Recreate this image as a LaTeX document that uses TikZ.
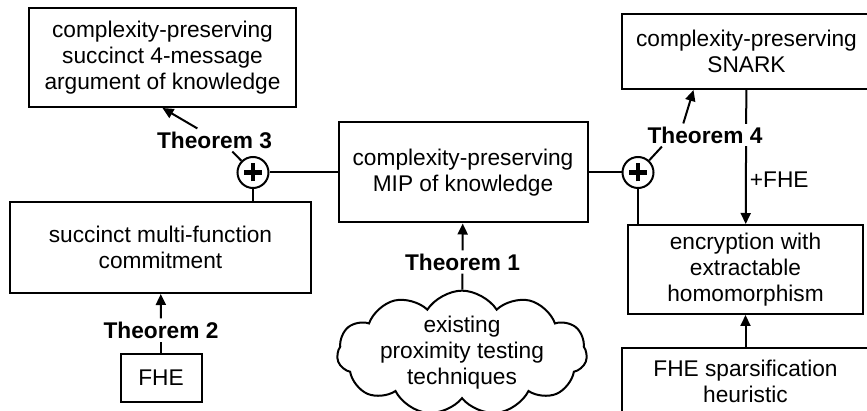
\documentclass[tikz,border=0pt]{standalone}
\usepackage{fontspec}
\setmainfont{Liberation Sans}
\usetikzlibrary{arrows.meta,shapes.symbols}

\begin{document}
\begin{tikzpicture}[
x=1pt, y=-1pt,
% Style for the boxes (results)
box style/.style={
draw=black,
line width=2pt,
align=center,
inner sep=2pt,
font=\fontsize{22.7}{26}\selectfont
},
% Style for the theorem labels on the connectors
thm style/.style={
fill=white,
inner sep=3pt,
font=\fontsize{22.7}{26}\selectfont\bfseries
},
% Style for the circles that combine two results
plus style/.style={
circle,
draw=black,
line width=2pt,
fill=white,
minimum size=31pt,
inner sep=0pt,
path picture={
\draw[line width=4.5pt] ([xshift=-9pt]path picture bounding box.center) -- ([xshift=9pt]path picture bounding box.center);
\draw[line width=4.5pt] ([yshift=-9pt]path picture bounding box.center) -- ([yshift=9pt]path picture bounding box.center);
}
},
line style/.style={line width=2pt},
arrow style/.style={line width=2pt, -{Triangle[length=11pt,width=10pt]}}
]

\fill[white] (0,0) rectangle (867,411);
\useasboundingbox (0,0) rectangle (867,411);

% The boxes
\node[box style, minimum width=267pt, minimum height=99pt] (argument) at (162.5,57.5) {complexity-preserving\\succinct 4-message\\argument of knowledge};
\node[box style, minimum width=249pt, minimum height=100pt] (mip) at (463,172.5) {complexity-preserving\\MIP of knowledge};
\node[box style, minimum width=249pt, minimum height=75pt] (snark) at (746.5,51.5) {complexity-preserving\\SNARK};
\node[box style, minimum width=301pt, minimum height=91pt] (commitment) at (160.5,247.5) {succinct multi-function\\commitment};
\node[box style, minimum width=235pt, minimum height=89pt] (encryption) at (745.5,269.5) {encryption with\\extractable\\homomorphism};
\node[box style, minimum width=247pt, minimum height=66pt] (sparsification) at (745.5,381) {FHE sparsification\\heuristic};
\node[box style, minimum width=81pt, minimum height=48pt] (fhe) at (161,378) {FHE};
\node[box style, cloud, cloud puffs=11, cloud puff arc=115, cloud ignores aspect, inner xsep=1pt, inner ysep=-4pt, minimum width=250pt, minimum height=60pt] (proximity) at (462,353) {existing\\proximity testing\\techniques};

% SNARK plus FHE gives the encryption (label drawn over it later)
\draw[arrow style] (snark) -- node[pos=0.67, right, inner sep=3pt, font=\fontsize{22.7}{26}\selectfont] (plusfhe) {+FHE} (encryption);

% The circles and the theorem labels
\node[plus style] (plus3) at (253,172.5) {};
\node[plus style] (plus4) at (638,172.5) {};
\node[thm style] (thm3) at (214.5,140) {Theorem 3};
\node[thm style] (thm4) at (705,135) {Theorem 4};
\node[thm style] (thm1) at (462.5,262) {Theorem 1};
\node[thm style] (thm2) at (161,330) {Theorem 2};

% Theorem 3: MIP + commitment
\draw[line style] (plus3) -- (mip);
\draw[line style] (plus3) -- (plus3 |- commitment.north);
\draw[line style] (plus3) -- (thm3.327);
\draw[arrow style] (thm3.146) -- (argument.south);

% Theorem 4: MIP + encryption
\draw[line style] (mip) -- (plus4);
\draw[line style] (plus4) -- (plus4 |- encryption.north);
\draw[line style] (plus4) -- (thm4.195);
\draw[arrow style] (thm4.152) -- (snark.216);

% Theorem 1 and Theorem 2
\draw[line style] (proximity) -- (thm1);
\draw[arrow style] (thm1) -- (mip);
\draw[line style] (fhe) -- (thm2);
\draw[arrow style] (thm2) -- (commitment);

% Heuristic gives the encryption
\draw[arrow style] (sparsification) -- (encryption);

\end{tikzpicture}
\end{document}
